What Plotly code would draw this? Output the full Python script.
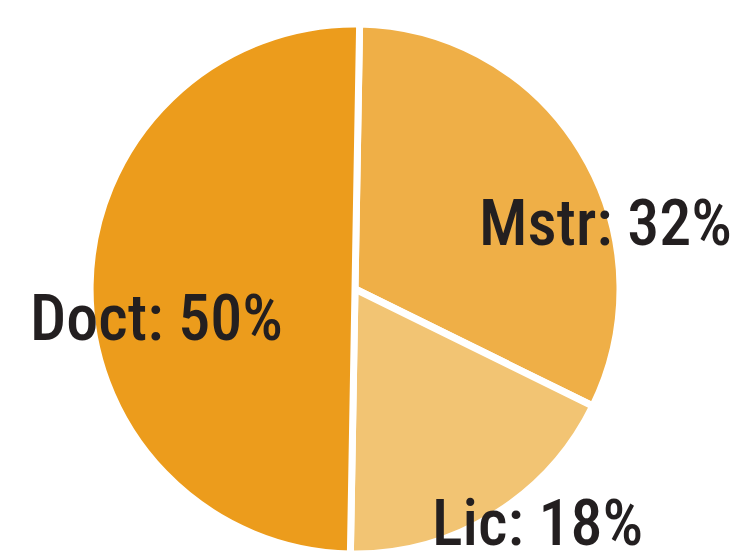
import plotly.graph_objects as go

categories = ["Mstr", "Lic", "Doct"]
values = [32, 18, 50]
colors = ["#EFAF47", "#F2C473", "#EC9C1C"]

W, H = 731, 556
cx, cy, r = 355, 289, 265

# label placement (pixel centre of text)
label_px = {"Mstr": (605, 224), "Lic": (537, 523), "Doct": (156, 318)}

fig = go.Figure(go.Pie(
    labels=categories,
    values=values,
    sort=False,
    direction="clockwise",
    rotation=1,
    marker=dict(colors=colors, line=dict(color="white", width=7)),
    textinfo="none",
    hoverinfo="label+percent",
    showlegend=False,
    domain=dict(x=[(cx - r) / W, (cx + r) / W], y=[(H - cy - r) / H, (H - cy + r) / H]),
))

font_family = "Roboto Condensed, DejaVu Sans Condensed, sans-serif"
for cat, val in zip(categories, values):
    px, py = label_px[cat]
    fig.add_annotation(x=px / W, y=1 - py / H, xref="paper", yref="paper",
                       text=f"{cat}: {val}%", showarrow=False,
                       xanchor="center", yanchor="middle",
                       font=dict(family=font_family, size=64, color="#231F20", weight=500))

fig.update_layout(width=W, height=H, margin=dict(l=0, r=0, t=0, b=0),
                  paper_bgcolor="white", plot_bgcolor="white")
fig.write_html("out.html", config={"displayModeBar": False},
               post_script="document.body.style.margin='0';")
